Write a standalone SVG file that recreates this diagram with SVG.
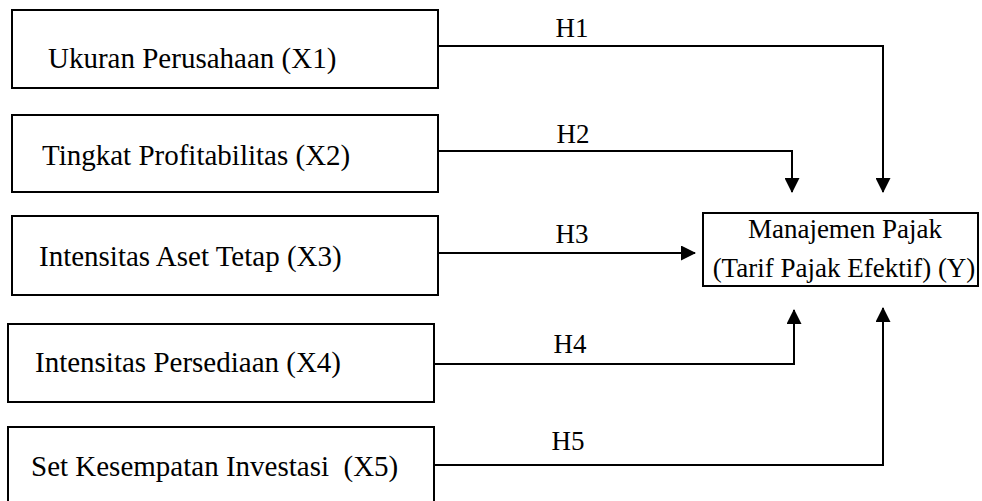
<svg xmlns="http://www.w3.org/2000/svg" width="982" height="501" viewBox="0 0 982 501">
<style>
.box{fill:#fff;stroke:#000;stroke-width:2}
.t{font-family:'Liberation Serif','Times New Roman',Times,'Noto Serif','DejaVu Serif',serif;font-size:29px;fill:#000}
.h{font-family:'Liberation Serif','Times New Roman',Times,'Noto Serif','DejaVu Serif',serif;font-size:27px;fill:#000}
.c{fill:none;stroke:#000;stroke-width:2}
</style>
<defs>
<marker id="ah" markerWidth="15" markerHeight="15" refX="14" refY="7.5" orient="auto" markerUnits="userSpaceOnUse">
<path d="M0,0 L15,7.5 L0,15 Z" fill="#000"/>
</marker>
</defs>
<rect width="982" height="501" fill="#fff"/>
<g id="x1"><rect class="box" x="12" y="10" width="426" height="78"/><text class="t" x="48" y="68">Ukuran Perusahaan (X1)</text></g>
<g id="x2"><rect class="box" x="12" y="115" width="426" height="77"/><text class="t" x="42" y="165">Tingkat Profitabilitas (X2)</text></g>
<g id="x3"><rect class="box" x="12" y="216" width="426" height="79"/><text class="t" x="39" y="266">Intensitas Aset Tetap (X3)</text></g>
<g id="x4"><rect class="box" x="8" y="324" width="426" height="78"/><text class="t" x="35" y="372">Intensitas Persediaan (X4)</text></g>
<g id="x5"><rect class="box" x="8" y="427" width="426" height="80"/><text class="t" x="31" y="476" xml:space="preserve">Set Kesempatan Investasi  (X5)</text></g>
<g id="y"><rect class="box" x="703" y="213" width="275" height="73"/><text class="h" x="845" y="238" text-anchor="middle">Manajemen Pajak</text><text class="h" x="844" y="277" text-anchor="middle">(Tarif Pajak Efektif) (Y)</text></g>
<g id="connectors">
<path class="c" d="M438,46 H883 V192" marker-end="url(#ah)"/>
<path class="c" d="M438,151 H792 V192" marker-end="url(#ah)"/>
<path class="c" d="M438,253 H695" stroke-width="3" marker-end="url(#ah)"/>
<path class="c" d="M434,364 H794 V310" marker-end="url(#ah)"/>
<path class="c" d="M434,465 H883 V308" marker-end="url(#ah)"/>
<text class="h" x="572" y="37" text-anchor="middle">H1</text>
<text class="h" x="573" y="143" text-anchor="middle">H2</text>
<text class="h" x="572" y="243" text-anchor="middle">H3</text>
<text class="h" x="570" y="353" text-anchor="middle">H4</text>
<text class="h" x="568" y="450" text-anchor="middle">H5</text>
</g>
</svg>
